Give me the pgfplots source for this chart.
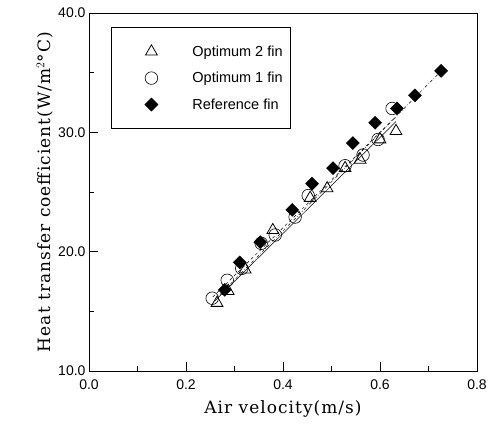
\documentclass[border=0pt]{standalone}
\usepackage{fontspec}
\setmainfont{Liberation Sans}
\newfontfamily\labfont[LetterSpace=6]{DejaVu Serif}
\usepackage{pgfplots}
\pgfplotsset{compat=1.18}
\begin{document}
\begin{tikzpicture}
\begin{axis}[name=ax,
  scale only axis, width=388bp, height=358bp,
  xmin=0, xmax=0.8, ymin=10, ymax=40,
  xtick={0,0.2,0.4,0.6,0.8}, ytick={10,20,30,40},
  minor xtick={0.1,0.3,0.5,0.7}, minor ytick={15,25,35},
  xtick pos=bottom, ytick pos=left, tick align=inside,
  major tick length=9bp, minor tick length=5bp,
  every tick/.style={black, line width=0.6bp},
  axis line style={line width=0.6bp},
  /pgf/number format/assume math mode=true,
  /pgf/number format/.cd, fixed, fixed zerofill, precision=1, /pgfplots/.cd,
  tick label style={font=\fontsize{14bp}{16bp}\selectfont},
  xticklabel style={yshift=-5bp},
  xlabel={\labfont\fontsize{17bp}{20bp}\selectfont Air velocity(m/s)},
  ylabel={\labfont\fontsize{17bp}{20bp}\selectfont Heat transfer coefficient(W/m$^2$°C)},
  xlabel style={yshift=-4bp},
  ylabel style={yshift=-2bp},
  legend style={at={(0.057,0.96)}, anchor=north west, draw=black, line width=0.6bp,
    font=\fontsize{14.5bp}{16bp}\selectfont, row sep=10.5bp, inner xsep=6bp, inner ysep=16bp,
    cells={anchor=west}, column sep=9bp},
  legend image code/.code={\path[mark repeat=2, mark phase=2, #1, draw=none] plot coordinates {(0bp,0bp) (34bp,0bp) (64bp,0bp)};},
]
\addplot[draw=none, mark=triangle, mark size=6.8bp, mark options={draw=black, line width=0.8bp, fill=white}] coordinates {
(0.264,15.7)(0.287,16.7)(0.322,18.5)(0.379,21.8)(0.456,24.5)(0.491,25.3)(0.528,27.0)(0.559,27.7)(0.600,29.4)(0.633,30.1)};
\addlegendentry{Optimum 2 fin}
\addplot[draw=none, mark=o, mark size=6.3bp, mark options={draw=black, line width=0.6bp}] coordinates {
(0.254,16.1)(0.285,17.6)(0.315,18.6)(0.355,20.7)(0.384,21.4)(0.425,22.9)(0.452,24.7)(0.528,27.2)(0.565,28.1)(0.596,29.4)(0.625,32.0)};
\addlegendentry{Optimum 1 fin}
\addplot[draw=none, mark=square*, mark size=4.6bp, mark options={draw=black, rotate=45, fill=black}] coordinates {
(0.280,16.8)(0.311,19.1)(0.353,20.8)(0.419,23.5)(0.460,25.7)(0.503,27.0)(0.544,29.1)(0.590,30.8)(0.635,32.0)(0.672,33.1)(0.726,35.15)};
\addlegendentry{Reference fin}
\addplot[forget plot, line width=0.5bp] coordinates {(0.26,15.9)(0.633,30.9)};
\addplot[forget plot, line width=0.5bp, dashed] coordinates {(0.255,16.2)(0.63,31.2)};
\addplot[forget plot, line width=0.5bp, dash dot] coordinates {(0.27,16.4)(0.73,35.3)};
\end{axis}
\pgfresetboundingbox
\path ([xshift=-89bp,yshift=-55bp]ax.south west) rectangle ([xshift=22bp,yshift=13bp]ax.north east);
\end{tikzpicture}
\end{document}
